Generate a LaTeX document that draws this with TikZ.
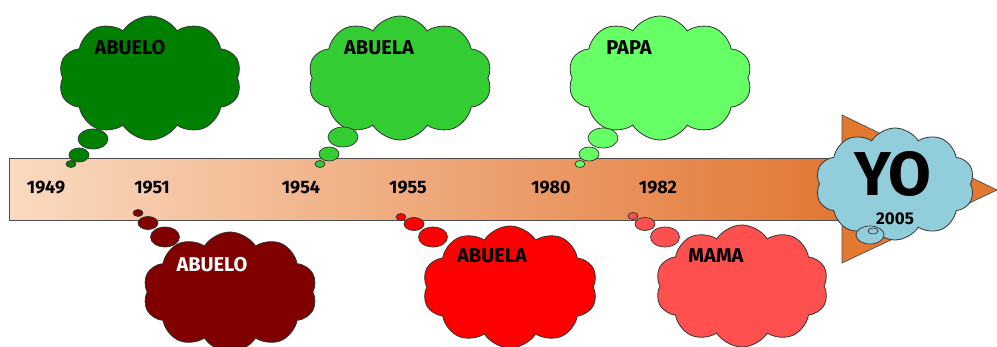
\documentclass[tikz,border=0pt]{standalone}
\usepackage{fontspec}
\setmainfont{Fira Sans}
\usetikzlibrary{shapes.symbols,shapes.geometric}
\definecolor{gA}{HTML}{008000}
\definecolor{gB}{HTML}{33CC33}
\definecolor{gC}{HTML}{66FF66}
\definecolor{rA}{HTML}{800000}
\definecolor{rB}{HTML}{FF0000}
\definecolor{rC}{HTML}{FF5050}
\definecolor{yoc}{HTML}{92CDDC}
\definecolor{arr}{HTML}{E3782F}
\definecolor{shL}{RGB}{250,218,192}
\definecolor{shR}{RGB}{226,118,52}
\begin{document}
\begin{tikzpicture}[x=1pt,y=-1pt,
  cloudbox/.style={cloud, cloud puffs=10, cloud puff arc=115, cloud ignores aspect, draw=black!80, line width=0.8pt, inner sep=0pt},
  bubble/.style={ellipse, draw=black!80, line width=0.7pt, inner sep=0pt},
  lbl/.style={font=\bfseries\fontsize{20}{20}\selectfont, inner sep=0pt},
  year/.style={font=\bfseries\fontsize{18}{18}\selectfont, inner sep=0pt}]
\useasboundingbox (0,0) rectangle (997,347);
% shaft and arrow head
\node[draw=black!70, line width=0.7pt, left color=shL, right color=shR, minimum width=834pt, minimum height=62pt, inner sep=0pt, anchor=north west] (shaft) at (9,158) {};
\coordinate (t1) at (842,115);
\coordinate (t2) at (997,190);
\coordinate (t3) at (842,263);
\draw[draw=black!70, line width=0.7pt, fill=arr] (t1) -- (t2) -- (t3) -- cycle;
% top clouds
\node[cloudbox, fill=gA, minimum width=183pt, minimum height=124pt] (c1) at (150,78) {};
\node[cloudbox, fill=gB, minimum width=184pt, minimum height=124pt] (c2) at (400,78) {};
\node[cloudbox, fill=gC, minimum width=184pt, minimum height=124pt] (c3) at (660,78) {};
\node[bubble, fill=gA, minimum width=30pt, minimum height=20pt] (b1a) at (93,139) {};
\node[bubble, fill=gA, minimum width=20pt, minimum height=14pt] (b1b) at (79,155) {};
\node[bubble, fill=gA, minimum width=10pt, minimum height=7pt] (b1c) at (71,164) {};
\node[bubble, fill=gB, minimum width=30pt, minimum height=20pt] (b2a) at (343,137) {};
\node[bubble, fill=gB, minimum width=20pt, minimum height=14pt] (b2b) at (329,154) {};
\node[bubble, fill=gB, minimum width=10pt, minimum height=7pt] (b2c) at (320,164) {};
\node[bubble, fill=gC, minimum width=30pt, minimum height=20pt] (b3a) at (603,138) {};
\node[bubble, fill=gC, minimum width=20pt, minimum height=14pt] (b3b) at (589,154) {};
\node[bubble, fill=gC, minimum width=10pt, minimum height=7pt] (b3c) at (580,164) {};
% bottom clouds
\node[cloudbox, fill=rA, minimum width=174pt, minimum height=120pt] (c4) at (230,292) {};
\node[cloudbox, fill=rB, minimum width=175pt, minimum height=122pt] (c5) at (510,287) {};
\node[cloudbox, fill=rC, minimum width=173pt, minimum height=122pt] (c6) at (742,286) {};
\node[bubble, fill=rA, minimum width=10pt, minimum height=7pt] (b4c) at (138,213) {};
\node[bubble, fill=rA, minimum width=20pt, minimum height=13pt] (b4b) at (148,223) {};
\node[bubble, fill=rA, minimum width=29pt, minimum height=20pt] (b4a) at (165,237) {};
\node[bubble, fill=rB, minimum width=10pt, minimum height=7pt] (b5c) at (401,217) {};
\node[bubble, fill=rB, minimum width=20pt, minimum height=13pt] (b5b) at (414,224) {};
\node[bubble, fill=rB, minimum width=29pt, minimum height=20pt] (b5a) at (433,237) {};
\node[bubble, fill=rC, minimum width=10pt, minimum height=7pt] (b6c) at (633,216) {};
\node[bubble, fill=rC, minimum width=20pt, minimum height=13pt] (b6b) at (645,224) {};
\node[bubble, fill=rC, minimum width=29pt, minimum height=20pt] (b6a) at (665,237) {};
% YO cloud
\node[cloudbox, fill=yoc, minimum width=159pt, minimum height=112pt] (c7) at (895,184) {};
\node[bubble, fill=yoc, minimum width=28pt, minimum height=18pt] (b7a) at (870,235) {};
\node[bubble, fill=yoc, minimum width=10pt, minimum height=6pt] (b7b) at (873,231) {};
% labels
\node[lbl] (l1) at (130,48) {ABUELO};
\node[lbl] (l2) at (379,48) {ABUELA};
\node[lbl] (l3) at (629,48) {PAPA};
\node[lbl, text=white] (l4) at (212,265) {ABUELO};
\node[lbl] (l5) at (492,256) {ABUELA};
\node[lbl] (l6) at (716,256) {MAMA};
\node[year] (y1) at (46,188) {1949};
\node[year] (y2) at (152,188) {1951};
\node[year] (y3) at (301,188) {1954};
\node[year] (y4) at (408,188) {1955};
\node[year] (y5) at (551,188) {1980};
\node[year] (y6) at (658,188) {1982};
\node[font=\bfseries\fontsize{62}{62}\selectfont, inner sep=0pt, text depth=0pt, text height=44pt] (yo) at (893,174) {YO};
\node[year, font=\bfseries\fontsize{17}{17}\selectfont, text depth=0pt] (y7) at (895,219) {2005};
\end{tikzpicture}
\end{document}
